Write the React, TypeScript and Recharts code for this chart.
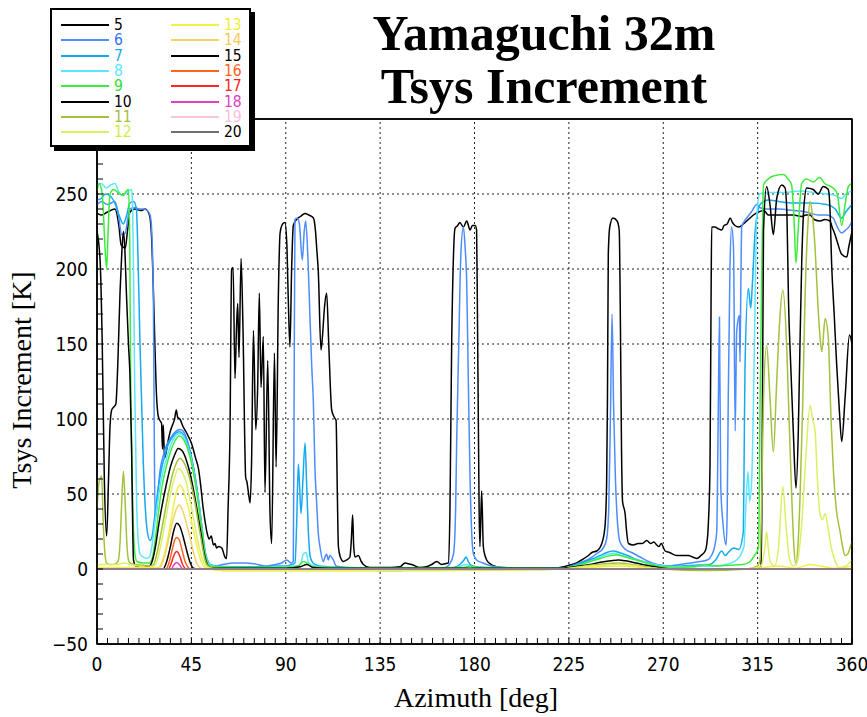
import { LineChart, Line, XAxis, YAxis, ReferenceLine, ReferenceArea } from 'recharts'

// elevation (deg) of each curve, in legend order
const ELEVATIONS = [5, 6, 7, 8, 9, 10, 11, 12, 13, 14, 15, 16, 17, 18, 19, 20]
const COLORS = [
  '#000000', '#4d8cff', '#14aaf0', '#5ce6ff', '#3cec3c', '#000000', '#a2c23c', '#dcf064',
  '#f0f046', '#f8d264', '#000000', '#ff641e', '#ff2828', '#e042c0', '#f8c4e0', '#707070',
]
const LABEL_COLORS = [
  '#000000', '#3070ff', '#14aaf0', '#5ce6ff', '#30e030', '#000000', '#a0c040', '#c8f040',
  '#f0f030', '#f8c850', '#000000', '#ff6020', '#ff2020', '#e040c0', '#f8c0e0', '#000000',
]

const AZ_LABELS = [0, 45, 90, 135, 180, 225, 270, 315, 360]
const K_LABELS = [-50, 0, 50, 100, 150, 200, 250, 300]
const AZ_TICKS = Array.from({ length: 73 }, (_, i) => i * 5)
const K_TICKS = Array.from({ length: 36 }, (_, i) => -50 + i * 10)

// [azimuth deg, Tsys increment K]
const EL05 = [
  [0, 237], [2, 236], [5, 238], [8.5, 240], [10.5, 228], [11.5, 216], [13.5, 214], [14.5, 225], [15.7, 238],
  [18, 240], [21, 239], [23, 240], [25, 236], [26, 222], [26.8, 190], [27.6, 150], [28.4, 115], [29.2, 102],
  [30, 99], [30.8, 97], [31.2, 80], [31.6, 96], [32.2, 74], [33, 78], [34, 86], [35, 92], [36, 96], [37, 100],
  [37.8, 106], [38.5, 101], [39.5, 100], [41, 95], [43, 90], [45, 84], [47, 74], [48.5, 66], [49.5, 55],
  [50.5, 42], [51.5, 32], [52.5, 24], [53.5, 20], [54.5, 22], [55.5, 16], [56.3, 17], [57, 14], [58, 15],
  [59.5, 14], [61, 8], [61.8, 7], [62.5, 40], [63.4, 90], [64.2, 200], [64.9, 201], [65.8, 127], [66.5, 160],
  [67.1, 177], [67.7, 141], [68.7, 207], [69.6, 161], [70.9, 61], [71.5, 58], [72.2, 51], [73, 44], [73.7, 71],
  [74.6, 159], [75.7, 93], [76.6, 121], [77.4, 184], [78.2, 121], [79.3, 155], [80.1, 51], [81.4, 139],
  [82.5, 37], [83.3, 17], [84.6, 144], [85.4, 68], [86.5, 184], [87.3, 224], [88.5, 230], [89.6, 231],
  [90.5, 217], [91.2, 180], [92, 148], [92.8, 200], [93.6, 229], [95.2, 233], [97, 235], [99.2, 237],
  [101, 236], [103.2, 234], [104.2, 225], [104.8, 213], [105.5, 199], [106.8, 146], [107.5, 155], [108.5, 175],
  [109.5, 184], [110.5, 150], [111.9, 106], [113.2, 101], [114, 99], [114.6, 50], [115.1, 15], [116, 8],
  [117.5, 5], [119, 6], [120.6, 8], [121.3, 20], [121.9, 36], [122.4, 15], [123, 8], [124.6, 9], [126, 5],
  [127, 3], [130, 1], [135, 1], [140, 1], [144.5, 1.5], [146.9, 4], [148.5, 3.5], [150, 3], [154, 1], [157, 1.5],
  [159.6, 3], [162, 5], [164.3, 3], [166, 3.5], [167.5, 4], [168.3, 40], [169.1, 148], [170, 210], [170.7, 227],
  [172, 229], [173, 231], [174.7, 228], [176.3, 232], [177.9, 226], [179, 229], [180.3, 229], [181, 226],
  [181.4, 170], [181.8, 104], [182.2, 40], [182.6, 15], [183.4, 52], [184.2, 15], [185, 9], [185.8, 6], [188, 3],
  [190.6, 1.5], [195, 0.5], [200, 0], [210, 0], [218, 0.5], [222.4, 1.5], [225, 2.5], [228.7, 4], [231, 6],
  [234.3, 9], [236, 11], [238.3, 12], [240.7, 17], [242.2, 28], [243, 57], [243.4, 113], [243.8, 210],
  [244.5, 228], [246, 234], [248, 232], [249, 226], [249.6, 160], [250.1, 80], [250.6, 45], [251.8, 37],
  [252.6, 24], [253.4, 17], [255.7, 16], [258, 17], [260, 17], [262.1, 19], [264, 17], [265.5, 18], [266.9, 16],
  [268, 15], [269, 17], [270.9, 12], [273, 11], [276.4, 9], [279.6, 9], [282, 9], [284, 8], [286, 7], [288, 9],
  [290, 12], [290.7, 16], [291.5, 30], [292.3, 69], [292.8, 180], [293.1, 228], [294.7, 228], [296, 227],
  [297.9, 226], [299, 229], [300.5, 230], [301.9, 234], [303, 231], [304.2, 229], [306, 228], [307.4, 229],
  [309, 231], [311.4, 234], [313, 236], [315.4, 238], [318, 239], [320.1, 236], [322, 236], [327, 236],
  [332, 236], [336, 235], [338, 236], [340, 236], [342, 233], [344.8, 232], [347, 233], [349.5, 232],
  [350.5, 228], [351.9, 223], [353, 218], [355, 210], [357.5, 208], [358.5, 215], [360, 225],
]
const EL06 = [
  [0, 243], [2.2, 245], [5, 243], [8.5, 245], [10, 238], [11.8, 223], [13.5, 224], [14.5, 232], [15.7, 240],
  [18, 241], [20, 240], [22, 240], [24, 239], [25.3, 236], [26, 228], [26.9, 177], [27.3, 90], [27.7, 33],
  [28.5, 40], [29.3, 55], [30, 65], [31.5, 75], [33, 82], [35, 87], [37, 91], [39.5, 93], [41, 92], [43, 86],
  [45, 75], [47, 60], [48.5, 45], [50, 28], [51, 16], [52, 8], [53, 4], [54, 2.5], [56, 2], [60, 3], [65, 4],
  [70, 4], [75, 3.5], [80, 2], [85, 3], [88, 4], [90.5, 6], [91.5, 5], [92.5, 4], [93.6, 5], [94, 120],
  [94.4, 233], [95.5, 234], [96.5, 230], [97.9, 206], [98.8, 225], [99.5, 232], [100.5, 210], [101.5, 170],
  [102.4, 135], [103.2, 110], [103.9, 68], [104.7, 45], [105.5, 24], [106.3, 15], [107.9, 5], [108.7, 8],
  [109.5, 10], [110.3, 6], [111, 9], [112.7, 6], [114, 2], [118, 1], [125, 0.5], [135, -1], [145, -1], [150, 0],
  [160, 0.5], [166, 1], [168, 3], [170, 10], [171, 40], [171.5, 85], [172.5, 150], [173.5, 210], [174.7, 228],
  [175.5, 215], [176.3, 190], [177, 130], [177.9, 59], [178.8, 20], [179.5, 10], [181, 6], [184, 4], [188, 2],
  [195, 1], [205, 0.5], [215, 0.5], [222.4, 0.5], [228, 3], [235, 7], [238, 10], [241.4, 14], [243, 20],
  [244, 40], [244.8, 100], [245.6, 170], [246.3, 110], [247.2, 60], [248, 35], [249.4, 18], [252, 13],
  [255, 11], [259, 8], [263, 5], [267, 3], [272, 2], [278, 3], [283, 4], [287.5, 5], [291, 6], [293, 9],
  [294.5, 15], [295.5, 25], [296.2, 100], [296.8, 168], [297.4, 56], [298.5, 30], [300, 16], [300.5, 40],
  [301, 114], [301.8, 200], [302.6, 228], [303.5, 214], [304.3, 92], [305, 158], [306.3, 169], [306.6, 138],
  [307, 190], [307.4, 228], [309.8, 234], [312, 238], [314.6, 243], [316, 241], [319, 240], [325, 240],
  [332, 239], [338, 238], [344, 236], [348, 236], [351, 234], [353, 228], [355, 224], [357, 226], [359, 229],
  [360, 232],
]
const EL07 = [
  [0, 246], [2, 247], [4, 250], [6, 249], [8.5, 244], [10.5, 236], [12.5, 230], [14, 235], [15.7, 244],
  [17.5, 245], [18.8, 240], [19.7, 199], [20.5, 150], [21.3, 110], [22.1, 70], [22.9, 44], [24, 25], [25.3, 19],
  [26.3, 22], [27.5, 35], [29, 52], [30.5, 65], [32, 74], [34, 83], [36, 88], [38, 91], [39.5, 91.5], [41, 90],
  [43, 84], [45, 74], [47, 59], [48.5, 45], [50, 28], [51, 17], [52, 9], [53, 5], [54, 3], [57, 2], [65, 1.5],
  [75, 1.5], [85, 2], [90, 2], [93, 3], [94.4, 4], [95.2, 30], [96, 70], [96.6, 55], [97.3, 37], [98.2, 60],
  [99.2, 84], [100, 55], [100.8, 24], [101.7, 8], [103, 4], [106, 2], [110, 1.5], [120, 1], [140, 0.5],
  [160, 0.5], [170, 1], [173, 3], [175, 6], [176, 8], [177, 5], [179, 2], [185, 1], [200, 0.5], [222, 0.5],
  [228, 2.5], [235, 6], [240, 9], [243, 11], [246.2, 12], [249, 11], [253, 9], [258, 6], [263, 4], [268, 2.5],
  [275, 2], [285, 2.5], [292, 3], [295, 6], [297.9, 12], [299.5, 9], [301, 11], [303.5, 14], [306, 13],
  [308.2, 25], [308.6, 80], [309, 136], [310.6, 187], [311.7, 174], [312.5, 190], [313.8, 225], [315, 238],
  [316.2, 243], [320, 246], [325, 245], [332, 244], [340, 244], [348, 243], [352, 240], [355, 234], [357, 238],
  [360, 243],
]
const EL08 = [
  [0, 256], [2, 257], [4.5, 254], [6.5, 256], [8.5, 257], [10.5, 251], [12, 249], [13.5, 250], [15, 252],
  [16.5, 253], [17, 240], [17.4, 199], [18, 120], [18.9, 44], [19.7, 18], [20.5, 10], [22, 8], [24, 7],
  [25.3, 9], [26.5, 18], [28, 35], [29.5, 50], [31, 62], [33, 73], [35, 82], [37, 88], [39.3, 90.4], [41, 89],
  [43, 83], [45, 73], [47, 58], [48.5, 44], [50, 27], [51, 16], [52, 8], [53, 4], [55, 2], [65, 1], [80, 1],
  [90, 1.5], [95, 2], [97, 3], [98.4, 10], [99.7, 11], [101, 4], [104, 2], [110, 1], [130, 0.5], [170, 0.5],
  [176, 3], [180, 1], [222, 0.5], [228, 2], [235, 5], [240, 8], [244, 10], [246.5, 10.5], [250, 9], [255, 7],
  [260, 5], [266, 3], [275, 1.5], [295, 2], [300, 3], [305, 6], [308.5, 15], [309.5, 45], [310.4, 65],
  [311.2, 45], [312.2, 60], [313, 110], [313.8, 180], [314.6, 235], [316, 250], [320, 251], [328, 251],
  [335, 252], [342, 251], [348, 250], [352, 249], [355, 247], [357, 250], [360, 252],
]
const EL09 = [
  [0, 252], [1, 257], [2.5, 250], [3.8, 215], [4.6, 200], [5.3, 225], [6.2, 250], [8, 253], [10, 251],
  [12.5, 249], [14, 252], [15, 253], [15.6, 220], [16, 133], [16.5, 80], [17.3, 30], [18.1, 10], [19, 5],
  [22, 4], [25, 4], [26.5, 8], [28, 22], [29.5, 40], [31, 55], [33, 68], [35, 78], [37, 85], [39.3, 88.7],
  [41, 87], [43, 81], [45, 71], [47, 56], [48.5, 42], [50, 26], [51, 15], [52, 7], [53, 3], [55, 1.5], [70, 1],
  [90, 1], [96, 2], [98.5, 5], [100, 4], [103, 1.5], [110, 1], [140, 0.5], [175, 1], [178, 2], [182, 1],
  [222, 0.5], [228, 2], [235, 5], [240, 7], [245, 9], [248, 9.3], [252, 8], [257, 6], [262, 4], [267, 2],
  [275, 1], [285, 1.5], [290, 3], [292, 2.5], [296, 2], [302, 2.5], [308, 3], [311.4, 5], [313.5, 9],
  [315.4, 14], [316.2, 114], [317, 200], [317.8, 256], [320, 260], [322.5, 262], [327.3, 263], [329.5, 260],
  [331.2, 256], [332.3, 235], [333.3, 204], [334.3, 225], [336, 257], [338.4, 260], [341.5, 258], [344.6, 261],
  [347, 257], [351, 254], [353, 250], [355.1, 229], [356.7, 243], [358.3, 255], [360, 257],
]
const EL10 = [
  [0, 225], [1.5, 205], [2.5, 150], [3.5, 60], [4.6, 22], [5.5, 60], [6.2, 95], [7, 106], [8, 108], [9, 110],
  [10, 140], [11, 185], [11.8, 210], [12.6, 225], [13.2, 215], [14, 185], [15, 150], [15.7, 130], [16.5, 80],
  [17, 30], [17.4, 6], [18.5, 2], [22, 1.5], [25, 2], [26.5, 6], [28, 16], [29.5, 30], [31, 42], [33, 56],
  [35, 68], [37, 76], [38.7, 80.4], [40.5, 79], [42.5, 73], [44.5, 63], [46.5, 49], [48.5, 33], [50, 20],
  [51, 11], [52, 5], [53, 2], [55, 0.5], [90, 0.5], [97, 1.5], [100, 3], [103, 1], [110, 0.5], [222, 0.5],
  [228, 1.5], [235, 3], [240, 4.5], [245, 5.5], [248.6, 6], [252, 5.5], [257, 4], [262, 2.5], [268, 1],
  [275, 0], [310, 0], [315, 0.5], [316.5, 2], [317, 36], [317.8, 225], [319.3, 255], [320.9, 243],
  [322.5, 223], [324.1, 247], [326.5, 256], [328.1, 254], [329, 235], [329.7, 180], [330.8, 135], [332, 92],
  [333.3, 54], [334.4, 92], [335.2, 150], [336, 203], [337, 240], [338.4, 254], [341.5, 253], [343.9, 250],
  [346.3, 255], [348.7, 253], [349.5, 240], [350.3, 203], [351.5, 170], [352.7, 136], [354, 105], [355.1, 85],
  [356.7, 114], [358.8, 156], [360, 150],
]
const EL11 = [
  [0, 40], [1, 58], [2.2, 62], [3, 30], [3.8, 10], [4.6, 4], [6, 3], [8, 3], [10, 5], [11, 18], [11.8, 45],
  [12.6, 65], [13.4, 45], [14.2, 18], [15, 6], [15.7, 4], [18, 3], [22, 2.5], [25, 2], [27, 3], [28.5, 10],
  [30, 20], [32, 35], [34, 50], [36, 63], [38, 71], [39.5, 73.8], [41, 72], [43, 66], [45, 56], [47, 42],
  [48.5, 29], [50, 17], [51, 9], [52, 4], [53, 2], [55, 0.5], [60, -1], [120, -1], [160, -1], [200, -0.5],
  [222, 0], [228, 1], [235, 2.5], [242, 3.5], [248.6, 4], [255, 3], [262, 1.5], [270, 0], [290, -1], [310, 0],
  [315, 2], [316.2, 7], [317, 50], [317.8, 114], [319.3, 149], [320.9, 114], [322.5, 78], [324.1, 125],
  [325.5, 165], [327, 186], [328.9, 147], [330, 100], [331.3, 47], [332.3, 15], [333.3, 3], [334.2, 15],
  [335.2, 47], [336.5, 110], [337.6, 180], [339, 230], [340, 245], [341.2, 235], [342.4, 214], [343.6, 180],
  [344.8, 154], [345.6, 145], [347.2, 167], [348.7, 154], [350, 100], [351, 69], [352.5, 40], [354.3, 25],
  [355.5, 15], [356.7, 9], [358, 10], [359, 14], [360, 18],
]
const EL12 = [
  [0, 3], [5, 3], [10, 3], [13, 4], [16, 3], [20, 2], [25, 1], [28, 3], [29.5, 10], [31, 20], [33, 35],
  [35, 50], [37, 61], [38.7, 67], [40.5, 65], [42.5, 58], [44.5, 45], [46.5, 30], [48.5, 16], [50, 8], [51, 4],
  [52, 2], [54, 0.5], [60, -1], [130, -1], [200, -0.5], [222, 0], [228, 1], [235, 2], [242, 2.5], [248.6, 3],
  [255, 2.5], [262, 1], [270, 0], [310, 0], [315, 1], [317, 3], [318.5, 15], [319.3, 25], [320, 15], [321, 5],
  [323, 2], [325, 15], [327, 55], [328.5, 30], [330, 8], [332, 2], [334, 5], [336, 30], [338, 75], [340, 109],
  [341.2, 100], [342.4, 92], [343.5, 60], [344.8, 36], [346, 33], [347.2, 37], [348.5, 28], [350, 15],
  [352, 5], [354, 1], [356, 1.5], [358, 3], [360, 6],
]
const EL13 = [
  [0, 1], [20, 1], [29.5, 1], [31, 5], [33, 15], [35, 30], [37, 46], [38.5, 54], [39.5, 56], [41, 53],
  [43, 44], [45, 32], [47, 19], [48.5, 10], [50, 4], [51, 1.5], [53, 0.3], [60, -1], [130, -1], [200, -0.5],
  [230, 0.5], [240, 1.5], [248, 2], [256, 1.5], [265, 0.3], [310, 0], [318, 1], [325, 2], [333, 0.5], [340, 3],
  [345, 2], [352, 0.5], [360, 2],
]
const EL14 = [
  [0, 0], [29, 0], [30.5, 2], [32.5, 10], [34.5, 22], [36.5, 34], [38, 40.5], [39.2, 42.7], [40.5, 40],
  [42.5, 31], [44.5, 20], [46, 11], [47.5, 4], [49, 1], [51, 0], [360, 0],
]
const EL15 = [
  [0, 0], [31.5, 0], [33, 4], [35, 15], [36.5, 25], [38, 30.5], [39.5, 28.5], [41, 22], [43, 11], [44.5, 4],
  [46, 0.5], [48, 0], [360, 0],
]
const EL16 = [
  [0, 0], [33, 0], [34.3, 4], [35.7, 12], [37, 19], [38, 21], [39.2, 19.5], [40.5, 13], [42, 5], [43.5, 1],
  [44.5, 0], [360, 0],
]
const EL17 = [
  [0, 0], [34, 0], [35.2, 3], [36.5, 8.5], [38, 11.6], [39.5, 8.5], [40.8, 3], [42, 0.5], [43, 0], [360, 0],
]
const EL18 = [[0, 0], [35.5, 0], [36.5, 2.5], [38, 4.4], [39.5, 2.5], [40.5, 0.3], [41.5, 0], [360, 0]]
const EL19 = [[0, 0], [36.5, 0], [38, 1], [39.5, 0], [360, 0]]
const EL20 = [[0, 0], [360, 0]]

const SERIES = [EL05, EL06, EL07, EL08, EL09, EL10, EL11, EL12, EL13, EL14, EL15, EL16, EL17, EL18, EL19, EL20]

const tickFont = "'Liberation Sans Narrow', 'DejaVu Sans Condensed', 'Arial Narrow', sans-serif"
const serif = "'Liberation Serif', 'Times New Roman', serif"

function AzTick(props: any) {
  const { x, y, payload } = props
  if (!AZ_LABELS.includes(payload.value)) return <g />
  return (
    <text x={x} y={y} dy="0.71em" textAnchor="middle" fontSize={19} fontFamily={tickFont} fill="#000">
      {payload.value}
    </text>
  )
}

function KTick(props: any) {
  const { x, y, payload } = props
  if (!K_LABELS.includes(payload.value)) return <g />
  const v = payload.value < 0 ? `\u2212${Math.abs(payload.value)}` : `${payload.value}`
  return (
    <text x={x} y={y} dy="0.355em" textAnchor="end" fontSize={19} fontFamily={tickFont} fill="#000">
      {v}
    </text>
  )
}

function LegendBox() {
  return (
    <div
      style={{
        position: 'absolute', left: 50, top: 8, width: 201, height: 139, boxSizing: 'border-box',
        border: '2px solid #000', background: '#fff', boxShadow: '4px 4px 0 #000',
        fontFamily: tickFont, fontSize: 15.5,
      }}
    >
      {ELEVATIONS.map((el, i) => {
        const col = i < 8 ? 0 : 1
        const row = i % 8
        const top = 15 + row * 15.33 - 7
        const left = col === 0 ? 9 : 119
        return (
          <div key={el} style={{ position: 'absolute', left, top, height: 14, display: 'flex', alignItems: 'center' }}>
            <div style={{ width: 48, height: 0, borderTop: `2px solid ${COLORS[i]}` }} />
            <span style={{ marginLeft: 5, color: LABEL_COLORS[i], lineHeight: '14px' }}>{el}</span>
          </div>
        )
      })}
    </div>
  )
}

export default function App() {
  return (
    <div style={{ position: 'absolute', left: 0, top: 0, width: 867, height: 717, background: '#fff' }}>
      <LineChart width={867} height={717} margin={{ top: 118, right: 14, bottom: 43, left: 57 }}>
        <XAxis
          dataKey="az" type="number" domain={[0, 360]} ticks={AZ_TICKS} interval={0} allowDataOverflow
          height={30} tickSize={-6} tickMargin={20} tick={AzTick}
          axisLine={{ stroke: '#000', strokeWidth: 1.5 }} tickLine={{ stroke: '#000' }}
        />
        <XAxis
          xAxisId="top" orientation="top" dataKey="az" type="number" domain={[0, 360]} ticks={AZ_TICKS}
          interval={0} allowDataOverflow height={1} tickSize={-6} tick={false}
          axisLine={{ stroke: '#000', strokeWidth: 1.5 }} tickLine={{ stroke: '#000' }}
        />
        <YAxis
          type="number" domain={[-50, 300]} ticks={K_TICKS} interval={0} allowDataOverflow
          width={40} tickSize={-6} tickMargin={15} tick={KTick}
          axisLine={{ stroke: '#000', strokeWidth: 1.5 }} tickLine={{ stroke: '#000' }}
        />
        <YAxis
          yAxisId="right" orientation="right" type="number" domain={[-50, 300]} ticks={K_TICKS} interval={0}
          allowDataOverflow width={1} tickSize={-6} tick={false}
          axisLine={{ stroke: '#000', strokeWidth: 1.5 }} tickLine={{ stroke: '#000' }}
        />
        {AZ_LABELS.slice(1, -1).map((a) => (
          <ReferenceLine key={`x${a}`} x={a} stroke="#222" strokeDasharray="2 3" />
        ))}
        {K_LABELS.slice(1, -1).map((k) => (
          <ReferenceLine key={`y${k}`} y={k} stroke="#222" strokeDasharray="2 3" />
        ))}
        {/* plot frame */}
        <ReferenceArea x1={0} x2={360} y1={-50} y2={300} fill="none" stroke="#000" strokeWidth={1.5} />
        {SERIES.map((s, i) => {
          // the last curve sits on the top/right axes (same ranges) so those axes get drawn
          const last = i === SERIES.length - 1
          return (
            <Line
              key={ELEVATIONS[i]}
              xAxisId={last ? 'top' : 0}
              yAxisId={last ? 'right' : 0}
              data={s.map(([az, v]) => ({ az, v }))}
              dataKey="v"
              type="monotone"
              stroke={COLORS[i]}
              strokeWidth={1.5}
              dot={false}
              isAnimationActive={false}
            />
          )
        })}
      </LineChart>

      <svg width={867} height={717} style={{ position: 'absolute', left: 0, top: 0, pointerEvents: 'none' }}>
        <text x={31} y={380} transform="rotate(-90 31 380)" textAnchor="middle" fontFamily={serif} fontSize={28}>
          Tsys Increment [K]
        </text>
        <text x={476} y={707} textAnchor="middle" fontFamily={serif} fontSize={28}>
          Azimuth [deg]
        </text>
        <text x={544} y={50} textAnchor="middle" fontFamily={serif} fontSize={50} fontWeight="bold">
          Yamaguchi 32m
        </text>
        <text x={544} y={103} textAnchor="middle" fontFamily={serif} fontSize={50} fontWeight="bold">
          Tsys Increment
        </text>
      </svg>

      <LegendBox />
    </div>
  )
}
